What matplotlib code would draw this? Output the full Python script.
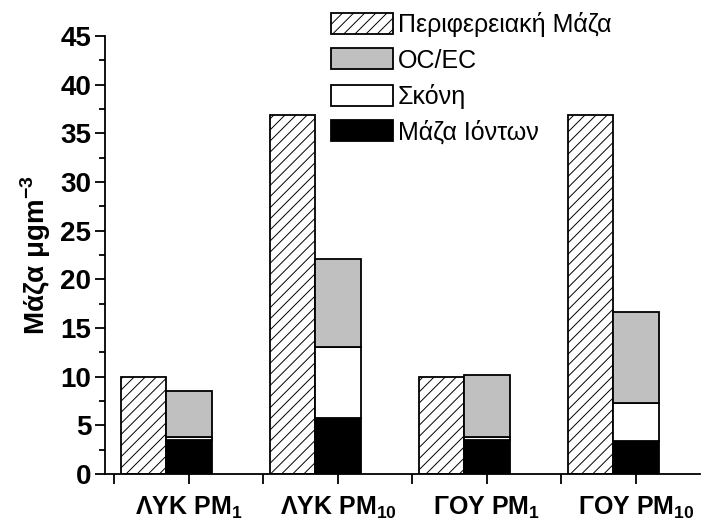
import matplotlib.pyplot as plt
import numpy as np
from matplotlib.ticker import MultipleLocator, FixedLocator

plt.rcParams['font.family'] = ['Liberation Sans', 'DejaVu Sans']
plt.rcParams['mathtext.fontset'] = 'custom'
plt.rcParams['mathtext.rm'] = 'Liberation Sans'
plt.rcParams['mathtext.bf'] = 'Liberation Sans:bold'
plt.rcParams['hatch.linewidth'] = 0.7

# data
SITES = ['ΛΥΚ PM$_{\\mathbf{1}}$', 'ΛΥΚ PM$_{\\mathbf{10}}$',
         'ΓΟΥ PM$_{\\mathbf{1}}$', 'ΓΟΥ PM$_{\\mathbf{10}}$']
periph_mass = [10.0, 36.9, 10.0, 36.9]
ion_mass = [3.45, 5.75, 3.45, 3.35]
dust = [0.35, 7.3, 0.4, 3.95]
oc_ec = [4.7, 9.0, 6.3, 9.3]

x = np.arange(1, 5)
w = 0.305

fig = plt.figure(figsize=(7.05, 5.27), dpi=100)
ax = fig.add_axes([0.149, 0.1006, 0.844, 0.831])

ax.bar(x - w, periph_mass, w, facecolor='white',
       edgecolor='black', hatch='///', linewidth=1.3,
       label='Περιφερειακή Μάζα')
ax.bar(x, ion_mass, w, color='black', edgecolor='black', linewidth=1.3,
       label='Μάζα Ιόντων')
ax.bar(x, dust, w, bottom=ion_mass, color='white', edgecolor='black',
       linewidth=1.3, label='Σκόνη')
bottom2 = np.array(ion_mass) + np.array(dust)
ax.bar(x, oc_ec, w, bottom=bottom2, color='#c0c0c0', edgecolor='black',
       linewidth=1.3, label='OC/EC')

ax.set_xlim(0.437, 4.43)
ax.set_ylim(0, 45)
ax.yaxis.set_major_locator(MultipleLocator(5))
ax.yaxis.set_minor_locator(MultipleLocator(2.5))
ax.set_xticks(x)
ax.set_xticklabels(SITES, fontsize=18, fontweight='bold')
ax.xaxis.set_minor_locator(FixedLocator([0.5, 1.5, 2.5, 3.5]))
ax.tick_params(axis='y', which='major', length=7, width=1.3,
               labelsize=20, pad=3)
ax.tick_params(axis='y', which='minor', length=4, width=1.3)
ax.tick_params(axis='x', which='major', length=7, width=1.3, pad=8)
ax.tick_params(axis='x', which='minor', length=7, width=1.3)
for lab in ax.get_yticklabels():
    lab.set_fontweight('bold')

ax.spines['top'].set_visible(False)
ax.spines['right'].set_visible(False)
ax.spines['left'].set_linewidth(1.3)
ax.spines['bottom'].set_linewidth(1.3)

ax.set_ylabel('Μάζα μgm$^{\\mathregular{-3}}$', fontsize=20,
              fontweight='bold', labelpad=5)

h, l = ax.get_legend_handles_labels()
order = [0, 3, 2, 1]
ax.legend([h[i] for i in order], [l[i] for i in order],
          loc='upper left', bbox_to_anchor=(0.47, 0.977),
          bbox_transform=fig.transFigure, frameon=False,
          fontsize=18, handlelength=2.45, handleheight=0.92,
          labelspacing=0.45, handletextpad=0.2, borderpad=0,
          borderaxespad=0)

fig.savefig('out.png', dpi=100)
